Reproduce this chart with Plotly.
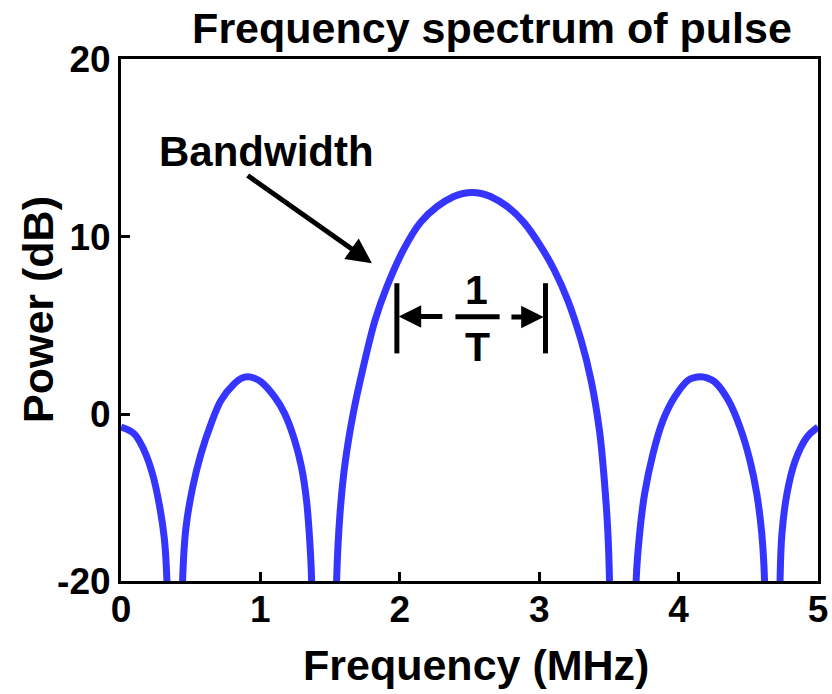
import plotly.graph_objects as go

# Frequency (MHz) and power (dB, display units)
freq_mhz = [
    0.000, 0.094, 0.166, 0.226, 0.274, 0.310, 0.329, 0.335, 0.385,
    0.436, 0.442, 0.466, 0.514, 0.574, 0.646, 0.718, 0.814, 0.862, 0.910, 0.958, 1.006,
    1.102, 1.174, 1.246, 1.295, 1.331, 1.354, 1.367, 1.372, 1.457,
    1.542, 1.547, 1.571, 1.607, 1.666, 1.738, 1.823, 1.907, 2.027, 2.147,
    2.267, 2.387, 2.453, 2.519, 2.585, 2.651, 2.772, 2.891, 3.012, 3.107, 3.204, 3.300,
    3.372, 3.432, 3.468, 3.492, 3.504, 3.509, 3.600,
    3.691, 3.696, 3.720, 3.756, 3.816, 3.888, 3.972, 4.068, 4.112, 4.157, 4.208, 4.260,
    4.357, 4.440, 4.512, 4.561, 4.597, 4.616, 4.621, 4.672,
    4.723, 4.728, 4.741, 4.777, 4.837, 4.921, 5.000,
]
power_db = [
    -0.72, -1.09, -2.03, -3.35, -5.05, -6.93, -9.27, -14.0, -60.0,
    -14.0, -9.32, -6.37, -4.11, -2.22, -0.53, 0.79, 1.73, 2.02, 2.11, 2.03, 1.82,
    0.98, 0.04, -1.47, -2.98, -4.86, -7.12, -9.27, -14.0, -60.0,
    -14.0, -9.27, -5.59, -2.77, 0.06, 2.66, 5.31, 7.18, 9.27, 10.79,
    11.69, 12.26, 12.43, 12.49, 12.43, 12.26, 11.69, 10.79, 9.44, 8.14, 6.44, 4.18,
    1.92, -0.90, -3.79, -6.55, -9.27, -14.0, -60.0,
    -14.0, -9.27, -6.74, -4.48, -2.22, -0.34, 0.98, 1.92, 2.06, 2.11, 2.04, 1.82,
    0.79, -0.72, -2.60, -4.48, -6.74, -9.27, -14.0, -60.0,
    -14.0, -9.27, -6.74, -4.48, -2.60, -1.28, -0.72,
]

x_ticks = [0, 1, 2, 3, 4, 5]
x_tick_text = ["0", "1", "2", "3", "4", "5"]
y_bottom = -9.38
y_ticks = [y_bottom, 0, 10, 20]
y_tick_text = ["-20", "0", "10", "20"]

FONT = "Liberation Sans"
BLUE = "#3535FF"

fig = go.Figure()
fig.add_trace(go.Scatter(
    x=freq_mhz, y=power_db, mode="lines",
    line=dict(color=BLUE, width=7, shape="spline", smoothing=1.0),
    hoverinfo="skip", showlegend=False,
))

# Bandwidth bracket: vertical markers
for xv in [1.979, 3.045]:
    fig.add_shape(type="line", xref="x", yref="y", x0=xv, x1=xv, y0=3.43, y1=7.38,
                  line=dict(color="black", width=5))
# fraction bar
fig.add_shape(type="line", xref="x", yref="y", x0=2.399, x1=2.716, y0=5.49, y1=5.49,
              line=dict(color="black", width=5))

# bracket arrows
fig.add_annotation(x=1.992, y=5.51, ax=2.316, ay=5.51, xref="x", yref="y", axref="x", ayref="y",
                   text="", showarrow=True, arrowhead=2, arrowwidth=5, arrowsize=0.9,
                   arrowcolor="black")
fig.add_annotation(x=3.032, y=5.48, ax=2.790, ay=5.48, xref="x", yref="y", axref="x", ayref="y",
                   text="", showarrow=True, arrowhead=2, arrowwidth=5, arrowsize=0.9,
                   arrowcolor="black")
fig.add_annotation(x=2.553, y=7.0, xref="x", yref="y", text="1", showarrow=False,
                   font=dict(family=FONT, size=41, color="black", weight="bold"))
fig.add_annotation(x=2.558, y=3.79, xref="x", yref="y", text="T", showarrow=False,
                   font=dict(family=FONT, size=41, color="black", weight="bold"))

# Bandwidth label and arrow
fig.add_annotation(x=1.045, y=14.8, xref="x", yref="y", text="Bandwidth", showarrow=False,
                   font=dict(family=FONT, size=42, color="black", weight="bold"))
fig.add_annotation(x=1.80, y=8.51, ax=0.898, ay=13.5, xref="x", yref="y", axref="x", ayref="y",
                   text="", showarrow=True, arrowhead=2, arrowwidth=5, arrowsize=1.0,
                   arrowcolor="black")

# axis titles
fig.add_annotation(x=(476 - 121) / 697, y=(581 - 665) / 522, xref="paper", yref="paper",
                   text="Frequency (MHz)", showarrow=False, xanchor="center", yanchor="middle",
                   font=dict(family=FONT, size=43, color="black", weight="bold"))
fig.add_annotation(x=(38 - 121) / 697, y=(581 - 310) / 522, xref="paper", yref="paper",
                   text="Power (dB)", showarrow=False, textangle=-90, xanchor="center",
                   yanchor="middle",
                   font=dict(family=FONT, size=43, color="black", weight="bold"))

fig.update_layout(
    width=832, height=694,
    margin=dict(l=121, r=14, t=59, b=113, autoexpand=False),
    paper_bgcolor="white", plot_bgcolor="white",
    title=dict(text="Frequency spectrum of pulse", x=492 / 832, xanchor="center",
               y=1 - 28 / 694, yanchor="middle", xref="container", yref="container",
               font=dict(family=FONT, size=43, color="black", weight="bold")),
    xaxis=dict(range=[0, 5], tickvals=x_ticks, ticktext=x_tick_text, automargin=False,
               ticks="inside", ticklen=9, tickwidth=3, tickcolor="black",
               ticklabelstandoff=-6,
               showline=True, linecolor="black", linewidth=3, mirror=True,
               showgrid=False, zeroline=False,
               tickfont=dict(family=FONT, size=37, color="black", weight="bold")),
    yaxis=dict(range=[y_bottom, 20], tickvals=y_ticks, ticktext=y_tick_text, automargin=False,
               ticks="inside", ticklen=9, tickwidth=3, tickcolor="black",
               showline=True, linecolor="black", linewidth=3, mirror=True,
               showgrid=False, zeroline=False,
               tickfont=dict(family=FONT, size=37, color="black", weight="bold")),
)

fig.write_html("out.html")
